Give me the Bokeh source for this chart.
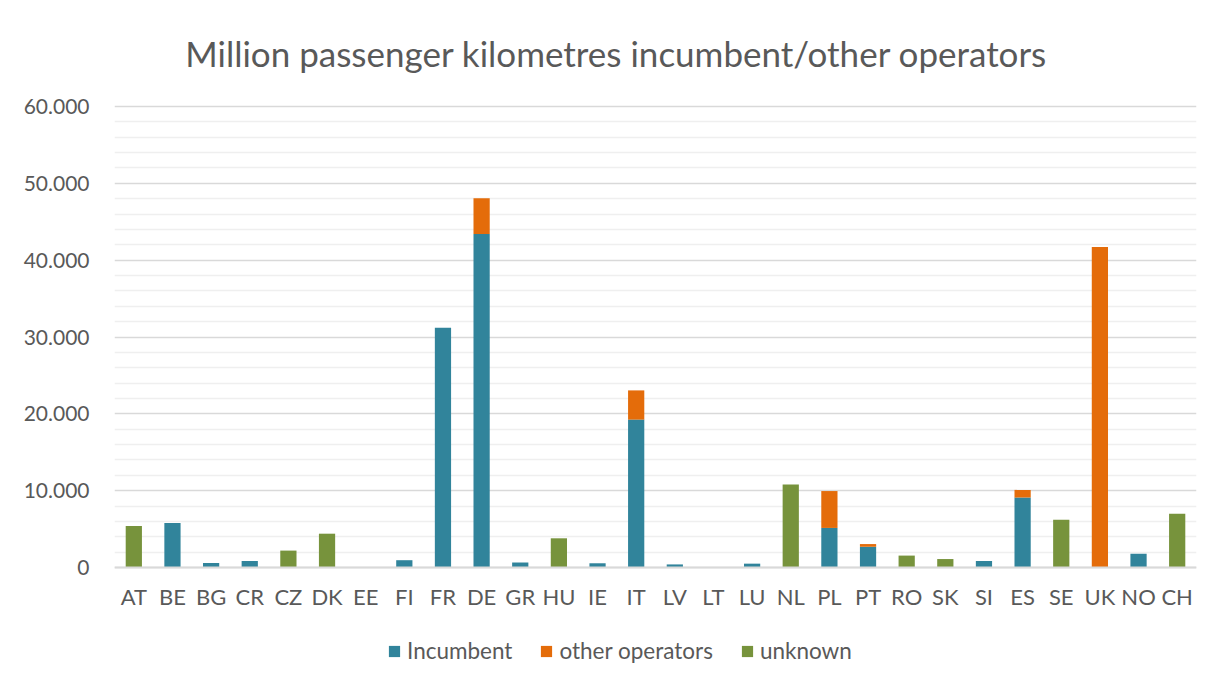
from bokeh.plotting import figure
from bokeh.models import (FactorRange, Range1d, FixedTicker, Legend, LegendItem, Label)
from bokeh.embed import file_html
from bokeh.resources import INLINE

countries = ["AT", "BE", "BG", "CR", "CZ", "DK", "EE", "FI", "FR", "DE", "GR", "HU", "IE", "IT",
             "LV", "LT", "LU", "NL", "PL", "PT", "RO", "SK", "SI", "ES", "SE", "UK", "NO", "CH"]
incumbent = [0, 5800, 600, 850, 0, 0, 0, 950, 31200, 43400, 650, 0, 550, 19250,
             400, 0, 500, 0, 5150, 2700, 0, 0, 850, 9100, 0, 0, 1800, 0]
other_operators = [0, 0, 0, 0, 0, 0, 0, 0, 0, 4650, 0, 0, 0, 3800,
                   0, 0, 0, 0, 4800, 350, 0, 0, 0, 1000, 0, 41700, 0, 0]
unknown = [5400, 0, 0, 0, 2200, 4400, 0, 0, 0, 0, 0, 3800, 0, 0,
           0, 0, 0, 10800, 0, 0, 1550, 1100, 0, 0, 6200, 0, 0, 7000]

series_names = ["Incumbent", "other operators", "unknown"]
y_ticks = [0, 10000, 20000, 30000, 40000, 50000, 60000]
y_tick_labels = ["0", "10.000", "20.000", "30.000", "40.000", "50.000", "60.000"]
y_minor = [v for v in range(2000, 60000, 2000) if v % 10000 != 0]
title_text = "Million passenger kilometres incumbent/other operators"

colors = ["#31849B", "#E46C0A", "#77933C"]
FONT = "Lato"
TXT = "#595959"

data = {"country": countries, "inc": incumbent, "oth": other_operators, "unk": unknown}

# layout in pixels: value 0 at y=567, 60000 at y=106; frame spans the whole canvas height
H = 686
PX_ZERO, PX_MAX = 567, 106
Y_MAX = 60000
per_px = Y_MAX / (PX_ZERO - PX_MAX)
Y_BOTTOM = -(H - PX_ZERO) * per_px
Y_TOP = Y_MAX + PX_MAX * per_px

FRAME_LEFT, FRAME_RIGHT = 114, 1196

p = figure(width=1225, height=H, output_backend="svg", toolbar_location=None,
           x_range=FactorRange(*countries, range_padding=0), y_range=Range1d(Y_BOTTOM, Y_TOP))
p.min_border_left = FRAME_LEFT
p.min_border_right = 1225 - FRAME_RIGHT
p.min_border_top = 0
p.min_border_bottom = 0
p.outline_line_color = None
p.background_fill_color = "white"
p.border_fill_color = "white"

renderers = p.vbar_stack(["inc", "oth", "unk"], x="country", width=0.42, color=colors,
                         line_color=None, source=data)

# title, centred at page (616, 52)
title_x = (616 - FRAME_LEFT) / (FRAME_RIGHT - FRAME_LEFT) * len(countries)
title_y = Y_MAX + (PX_MAX - 52) * per_px
p.add_layout(Label(x=title_x, y=title_y, text=title_text, text_align="center",
                   text_baseline="middle", text_font=FONT, text_font_size="35px",
                   text_color=TXT))

# y axis
p.yaxis.ticker = FixedTicker(ticks=y_ticks, minor_ticks=y_minor)
p.yaxis.major_label_overrides = {t: l for t, l in zip(y_ticks, y_tick_labels)}
p.yaxis.axis_line_color = None
p.yaxis.major_tick_line_color = None
p.yaxis.minor_tick_line_color = None
p.yaxis.major_label_standoff = 19
p.yaxis.major_label_text_font = FONT
p.yaxis.major_label_text_font_size = "21px"
p.yaxis.major_label_text_color = TXT

p.ygrid.grid_line_color = "#d9d9d9"
p.ygrid.grid_line_width = 1.5
p.ygrid.minor_grid_line_color = "#efefef"
p.ygrid.minor_grid_line_width = 1.5
p.xgrid.grid_line_color = None

# x axis, pinned at y = 0
p.xaxis.fixed_location = 0
p.xaxis.axis_line_color = "#d9d9d9"
p.xaxis.axis_line_width = 2
p.xaxis.major_tick_line_color = None
p.xaxis.minor_tick_line_color = None
p.xaxis.major_label_standoff = 9
p.xaxis.major_label_text_font = FONT
p.xaxis.major_label_text_font_size = "22px"
p.xaxis.major_label_text_color = TXT

legend = Legend(items=[LegendItem(label=n, renderers=[r]) for n, r in zip(series_names, renderers)],
                orientation="horizontal", location=(273, 22),
                label_text_font=FONT, label_text_font_size="22.5px", label_text_color=TXT,
                glyph_width=14, glyph_height=14, label_standoff=6, spacing=27,
                border_line_color=None, background_fill_alpha=0, padding=0, margin=0)
p.add_layout(legend, "center")

open("out.html", "w").write(file_html(p, INLINE))
